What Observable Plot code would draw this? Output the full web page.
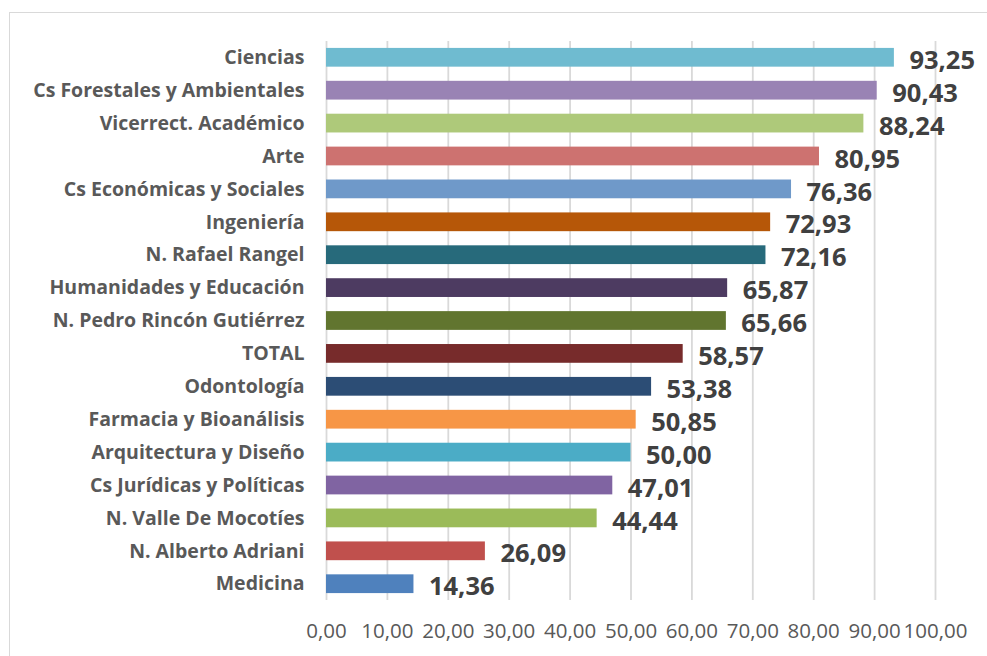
<!DOCTYPE html>
<html>
<head>
<meta charset="utf-8">
<script src="https://cdn.jsdelivr.net/npm/d3@7"></script>
<script src="https://cdn.jsdelivr.net/npm/@observablehq/plot@0.6"></script>
<style>
  html, body { margin: 0; padding: 0; background: #fff; overflow: hidden; }
  #frame { position: absolute; left: 9px; top: 12px; width: 1100px; height: 800px; border: 1px solid #d9d9d9; box-sizing: border-box; }
  #chart { position: absolute; left: 0; top: 0; }
</style>
</head>
<body>
<div id="frame"></div>
<div id="chart"></div>
<script>
const categories = [
  "Ciencias", "Cs Forestales y Ambientales", "Vicerrect. Académico", "Arte",
  "Cs Económicas y Sociales", "Ingeniería", "N. Rafael Rangel", "Humanidades y Educación",
  "N. Pedro Rincón Gutiérrez", "TOTAL", "Odontología", "Farmacia y Bioanálisis",
  "Arquitectura y Diseño", "Cs Jurídicas y Políticas", "N. Valle De Mocotíes",
  "N. Alberto Adriani", "Medicina"
];
const values = [93.25, 90.43, 88.24, 80.95, 76.36, 72.93, 72.16, 65.87, 65.66, 58.57, 53.38, 50.85, 50.00, 47.01, 44.44, 26.09, 14.36];
const colors = [
  "#6fbbd0", "#9983b4", "#aec97a", "#cd7270", "#6f99c9", "#b65708", "#276a7b", "#4d3b61",
  "#61752f", "#772b2b", "#2c4d75", "#f79646", "#4bacc6", "#8064a2", "#9bbb59", "#c0504d", "#4f81bd"
];
const xTicks = [0, 10, 20, 30, 40, 50, 60, 70, 80, 90, 100];

const data = categories.map((c, i) => ({ cat: c, value: values[i], color: colors[i] }));
const fmt = v => v.toFixed(2).replace(".", ",");

const chart = Plot.plot({
  width: 987,
  height: 656,
  marginLeft: 326,
  marginRight: 52,
  marginTop: 41,
  marginBottom: 56,
  style: { fontFamily: "'Open Sans', sans-serif", background: "transparent" },
  x: { domain: [0, 100] },
  y: { domain: categories, paddingInner: 0.43, paddingOuter: 0.21, round: false },
  marks: [
    Plot.gridX(xTicks, { stroke: "#d9d9d9", strokeOpacity: 1, strokeWidth: 1.8 }),
    Plot.barX(data, { x: "value", y: "cat", fill: "color" }),
    Plot.text(data, {
      x: "value", y: "cat", text: d => fmt(d.value), textAnchor: "start",
      dx: 15, dy: 3, fontSize: 25.5, fontWeight: "bold", fill: "#404040"
    }),
    Plot.axisX({
      ticks: xTicks, tickFormat: fmt, tickSize: 0, tickPadding: 23,
      fontSize: 20.5, fill: "#595959", label: null
    }),
    Plot.axisY({
      tickSize: 0, tickPadding: 22, fontSize: 19.5, fontWeight: "bold",
      fill: "#595959", label: null
    })
  ]
});
document.getElementById("chart").appendChild(chart);
</script>
</body>
</html>
